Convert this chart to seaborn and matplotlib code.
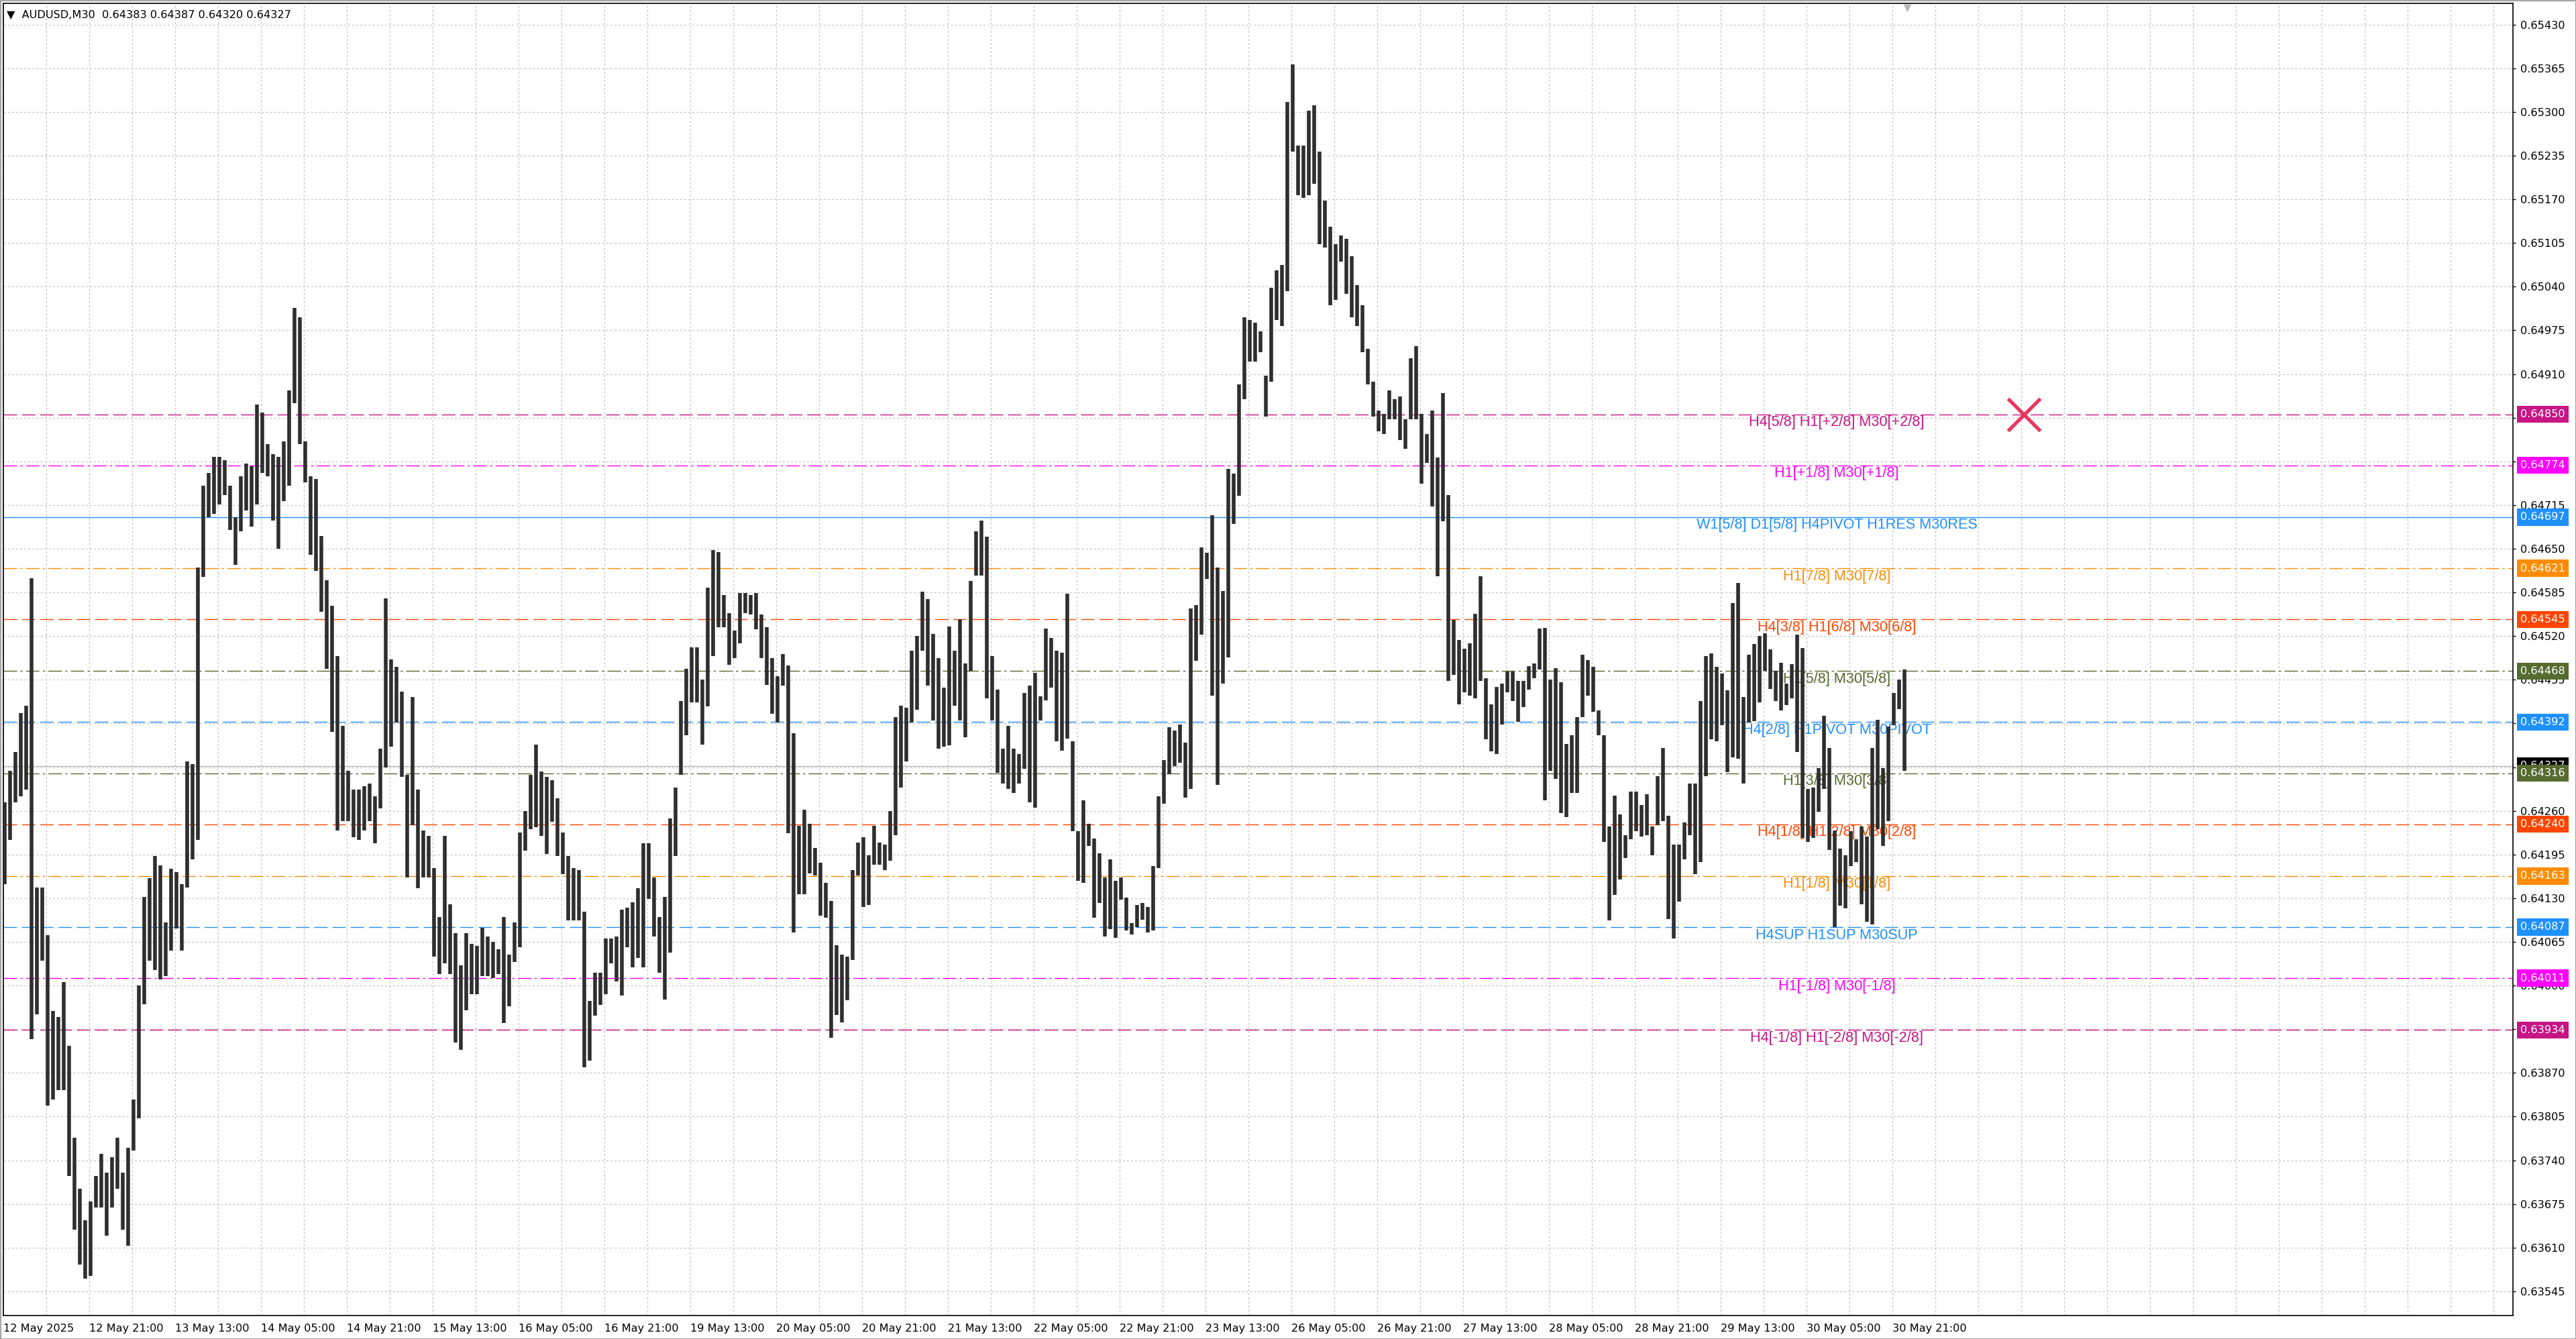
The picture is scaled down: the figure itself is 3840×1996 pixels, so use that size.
import numpy as np
import matplotlib
matplotlib.use("Agg")
import matplotlib.pyplot as plt
from matplotlib.patches import Rectangle
import seaborn as sns

# hourly high / low of AUDUSD, one value per hour from 12 May 05:00 (weekend hours skipped)
# week of 12 May (12 May 05:00 .. 16 May 23:00)
w1_high = [0.64273, 0.64320, 0.64348, 0.64405, 0.64416, 0.64606, 0.64146, 0.64146,
           0.64075, 0.63962, 0.63953, 0.64005, 0.63910, 0.63774, 0.63698, 0.63651,
           0.63679, 0.63717, 0.63750, 0.63722, 0.63745, 0.63774, 0.63722, 0.63759,
           0.63830, 0.64000, 0.64132, 0.64160, 0.64193, 0.64179, 0.64094, 0.64174,
           0.64169, 0.64151, 0.64334, 0.64330, 0.64622, 0.64744, 0.64763, 0.64787,
           0.64787, 0.64782, 0.64744, 0.64697, 0.64758, 0.64777, 0.64773, 0.64865,
           0.64853, 0.64806, 0.64791, 0.64787, 0.64810, 0.64886, 0.65008, 0.64994,
           0.64810, 0.64758, 0.64754, 0.64669, 0.64603, 0.64565, 0.64490, 0.64386,
           0.64320, 0.64292, 0.64292, 0.64297, 0.64301, 0.64282, 0.64353, 0.64576,
           0.64485, 0.64474, 0.64437, 0.64314, 0.64429, 0.64292, 0.64231, 0.64223,
           0.64175, 0.64102, 0.64223, 0.64121, 0.64078, 0.64030, 0.64078, 0.64062,
           0.64059, 0.64086, 0.64073, 0.64065, 0.64054, 0.64102, 0.64046, 0.64094,
           0.64228, 0.64260, 0.64314, 0.64359, 0.64319, 0.64311, 0.64306, 0.64279,
           0.64228, 0.64193, 0.64175, 0.64172, 0.64110, 0.63977, 0.64019, 0.64019,
           0.64070, 0.64070, 0.64073]
w1_low = [0.64151, 0.64217, 0.64273, 0.64282, 0.64292, 0.63920, 0.63957, 0.64037,
          0.63821, 0.63830, 0.63844, 0.63844, 0.63717, 0.63637, 0.63585, 0.63564,
          0.63568, 0.63670, 0.63670, 0.63628, 0.63670, 0.63698, 0.63637, 0.63613,
          0.63755, 0.63802, 0.63972, 0.64037, 0.64023, 0.64009, 0.64014, 0.64052,
          0.64085, 0.64052, 0.64146, 0.64188, 0.64217, 0.64608, 0.64697, 0.64702,
          0.64716, 0.64730, 0.64678, 0.64626, 0.64676, 0.64707, 0.64683, 0.64716,
          0.64763, 0.64758, 0.64692, 0.64650, 0.64721, 0.64744, 0.64867, 0.64806,
          0.64749, 0.64641, 0.64617, 0.64556, 0.64471, 0.64377, 0.64231, 0.64245,
          0.64245, 0.64221, 0.64217, 0.64231, 0.64245, 0.64212, 0.64264, 0.64325,
          0.64356, 0.64391, 0.64311, 0.64161, 0.64239, 0.64145, 0.64161, 0.64161,
          0.64043, 0.64017, 0.64033, 0.64017, 0.63915, 0.63904, 0.63963, 0.63987,
          0.63987, 0.64014, 0.64014, 0.64011, 0.64017, 0.63944, 0.63969, 0.64035,
          0.64057, 0.64201, 0.64233, 0.64236, 0.64223, 0.64196, 0.64244, 0.64193,
          0.64166, 0.64097, 0.64097, 0.64097, 0.63878, 0.63888, 0.63955, 0.63971,
          0.63987, 0.64033, 0.64006]

# week of 19 May (19 May 00:00 .. 23 May 23:00)
w2_high = [0.64113, 0.64116, 0.64124, 0.64145, 0.64212, 0.64212, 0.64161, 0.64102,
           0.64132, 0.64249, 0.64295, 0.64423, 0.64471, 0.64503, 0.64503, 0.64455,
           0.64592, 0.64648, 0.64645, 0.64581, 0.64554, 0.64528, 0.64584, 0.64584,
           0.64581, 0.64584, 0.64552, 0.64533, 0.64487, 0.64460, 0.64493, 0.64476,
           0.64375, 0.64238, 0.64262, 0.64241, 0.64205, 0.64183, 0.64153, 0.64126,
           0.64060, 0.64046, 0.64043, 0.64172, 0.64213, 0.64221, 0.64194, 0.64238,
           0.64213, 0.64210, 0.64260, 0.64399, 0.64416, 0.64413, 0.64498, 0.64520,
           0.64586, 0.64575, 0.64523, 0.64487, 0.64443, 0.64534, 0.64498, 0.64545,
           0.64479, 0.64602, 0.64676, 0.64692, 0.64668, 0.64490, 0.64440, 0.64353,
           0.64386, 0.64353, 0.64345, 0.64435, 0.64446, 0.64465, 0.64430, 0.64531,
           0.64517, 0.64498, 0.64495, 0.64583, 0.64364, 0.64230, 0.64276, 0.64241,
           0.64219, 0.64197, 0.64161, 0.64188, 0.64156, 0.64161, 0.64131, 0.64093,
           0.64120, 0.64123, 0.64117, 0.64178, 0.64282, 0.64336, 0.64384, 0.64379,
           0.64388, 0.64362, 0.64561, 0.64566, 0.64652, 0.64644, 0.64700, 0.64622,
           0.64587, 0.64769, 0.64762, 0.64895, 0.64994, 0.64990, 0.64986, 0.64973]
w2_low = [0.63985, 0.64057, 0.64027, 0.64041, 0.64027, 0.64129, 0.64073, 0.64019,
          0.63979, 0.64049, 0.64193, 0.64314, 0.64372, 0.64421, 0.64421, 0.64359,
          0.64415, 0.64490, 0.64533, 0.64533, 0.64477, 0.64487, 0.64509, 0.64554,
          0.64552, 0.64530, 0.64487, 0.64447, 0.64404, 0.64391, 0.64446, 0.64227,
          0.64079, 0.64136, 0.64136, 0.64167, 0.64164, 0.64104, 0.64101, 0.63922,
          0.63956, 0.63945, 0.63978, 0.64038, 0.64164, 0.64117, 0.64120, 0.64180,
          0.64180, 0.64172, 0.64186, 0.64224, 0.64295, 0.64334, 0.64391, 0.64410,
          0.64498, 0.64446, 0.64394, 0.64353, 0.64356, 0.64358, 0.64416, 0.64394,
          0.64369, 0.64468, 0.64610, 0.64610, 0.64427, 0.64394, 0.64317, 0.64301,
          0.64293, 0.64287, 0.64301, 0.64323, 0.64273, 0.64265, 0.64394, 0.64424,
          0.64443, 0.64364, 0.64350, 0.64367, 0.64230, 0.64156, 0.64153, 0.64208,
          0.64101, 0.64123, 0.64073, 0.64084, 0.64071, 0.64128, 0.64082, 0.64076,
          0.64087, 0.64098, 0.64079, 0.64082, 0.64175, 0.64271, 0.64315, 0.64327,
          0.64332, 0.64280, 0.64293, 0.64483, 0.64522, 0.64605, 0.64431, 0.64299,
          0.64449, 0.64488, 0.64687, 0.64729, 0.64873, 0.64929, 0.64929, 0.64942]

# week of 26 May (26 May 00:00 .. 30 May 23:00)
w3_high = [0.64908, 0.65038, 0.65064, 0.65072, 0.65315, 0.65371, 0.65250, 0.65250,
           0.65302, 0.65310, 0.65241, 0.65168, 0.65129, 0.65103, 0.65116, 0.65111,
           0.65085, 0.65042, 0.65012, 0.64947, 0.64899, 0.64856, 0.64851, 0.64886,
           0.64873, 0.64877, 0.64843, 0.64934, 0.64951, 0.64851, 0.64821, 0.64856,
           0.64786, 0.64882, 0.64730, 0.64544, 0.64514, 0.64501, 0.64509, 0.64553,
           0.64609, 0.64457, 0.64418, 0.64444, 0.64449, 0.64467, 0.64467, 0.64453,
           0.64453, 0.64475, 0.64479, 0.64531, 0.64532, 0.64455, 0.64472, 0.64451,
           0.64360, 0.64372, 0.64399, 0.64492, 0.64484, 0.64474, 0.64409, 0.64372,
           0.64237, 0.64283, 0.64255, 0.64224, 0.64289, 0.64289, 0.64269, 0.64285,
           0.64237, 0.64312, 0.64354, 0.64253, 0.64210, 0.64210, 0.64243, 0.64301,
           0.64301, 0.64423, 0.64490, 0.64494, 0.64474, 0.64464, 0.64439, 0.64569,
           0.64599, 0.64429, 0.64492, 0.64508, 0.64520, 0.64524, 0.64500, 0.64468,
           0.64480, 0.64449, 0.64478, 0.64522, 0.64502, 0.64293, 0.64295, 0.64324,
           0.64401, 0.64354, 0.64231, 0.64204, 0.64194, 0.64230, 0.64218, 0.64237,
           0.64222, 0.64354, 0.64395, 0.64324, 0.64385, 0.64435, 0.64455, 0.64470]
w3_low = [0.64847, 0.64899, 0.64990, 0.64981, 0.65033, 0.65241, 0.65176, 0.65172,
          0.65176, 0.65193, 0.65103, 0.65098, 0.65012, 0.65020, 0.65077, 0.65029,
          0.64994, 0.64981, 0.64942, 0.64895, 0.64847, 0.64825, 0.64821, 0.64843,
          0.64843, 0.64812, 0.64799, 0.64843, 0.64843, 0.64747, 0.64778, 0.64713,
          0.64609, 0.64691, 0.64453, 0.64462, 0.64418, 0.64436, 0.64431, 0.64427,
          0.64453, 0.64366, 0.64349, 0.64345, 0.64388, 0.64436, 0.64423, 0.64392,
          0.64414, 0.64440, 0.64457, 0.64470, 0.64276, 0.64320, 0.64308, 0.64257,
          0.64251, 0.64287, 0.64287, 0.64399, 0.64431, 0.64407, 0.64372, 0.64214,
          0.64097, 0.64135, 0.64158, 0.64190, 0.64218, 0.64230, 0.64222, 0.64224,
          0.64194, 0.64239, 0.64245, 0.64099, 0.64070, 0.64125, 0.64188, 0.64224,
          0.64166, 0.64184, 0.64312, 0.64366, 0.64364, 0.64387, 0.64318, 0.64340,
          0.64338, 0.64301, 0.64391, 0.64393, 0.64421, 0.64468, 0.64441, 0.64423,
          0.64409, 0.64417, 0.64427, 0.64348, 0.64220, 0.64214, 0.64220, 0.64259,
          0.64293, 0.64202, 0.64087, 0.64119, 0.64115, 0.64178, 0.64184, 0.64121,
          0.64095, 0.64091, 0.64233, 0.64208, 0.64245, 0.64387, 0.64411, 0.64320]

# horizontal levels drawn by the indicator
level_prices = [0.64850, 0.64774, 0.64697, 0.64621, 0.64545, 0.64468, 0.64392,
                0.64316, 0.64240, 0.64163, 0.64087, 0.64011, 0.63934]
level_names = ["H4[5/8] H1[+2/8] M30[+2/8]", "H1[+1/8] M30[+1/8]",
               "W1[5/8] D1[5/8] H4PIVOT H1RES M30RES", "H1[7/8] M30[7/8]",
               "H4[3/8] H1[6/8] M30[6/8]", "H1[5/8] M30[5/8]",
               "H4[2/8] H1PIVOT M30PIVOT", "H1[3/8] M30[3/8]",
               "H4[1/8] H1[2/8] M30[2/8]", "H1[1/8] M30[1/8]",
               "H4SUP H1SUP M30SUP", "H1[-1/8] M30[-1/8]",
               "H4[-1/8] H1[-2/8] M30[-2/8]"]
level_colors = ["#C71585", "#FF00FF", "#1E90FF", "#FF8C00", "#FF4500", "#556B2F",
                "#1E90FF", "#556B2F", "#FF4500", "#FF8C00", "#1E90FF", "#FF00FF",
                "#C71585"]
level_styles = ["dash", "dashdot", "solid", "dashdot", "dash", "dashdot", "dash",
                "dashdot", "dash", "dashdot", "dash", "dashdot", "dash"]

last_price = 0.64327
title = "AUDUSD,M30  0.64383 0.64387 0.64320 0.64327"

price_ticks = [0.65430, 0.65365, 0.65300, 0.65235, 0.65170, 0.65105, 0.65040,
               0.64975, 0.64910, 0.64845, 0.64780, 0.64715, 0.64650, 0.64585,
               0.64520, 0.64455, 0.64390, 0.64325, 0.64260, 0.64195, 0.64130,
               0.64065, 0.64000, 0.63935, 0.63870, 0.63805, 0.63740, 0.63675,
               0.63610, 0.63545]

time_labels = ["12 May 2025", "12 May 21:00", "13 May 13:00", "14 May 05:00",
               "14 May 21:00", "15 May 13:00", "16 May 05:00", "16 May 21:00",
               "19 May 13:00", "20 May 05:00", "20 May 21:00", "21 May 13:00",
               "22 May 05:00", "22 May 21:00", "23 May 13:00", "26 May 05:00",
               "26 May 21:00", "27 May 13:00", "28 May 05:00", "28 May 21:00",
               "29 May 13:00", "30 May 05:00", "30 May 21:00"]

highs = np.array(w1_high + w2_high + w3_high)
lows = np.array(w1_low + w2_low + w3_low)
hours = np.arange(len(highs)) + 0.25

sns.set_theme(style="white")
plt.rcParams["font.family"] = ["DejaVu Sans"]
plt.rcParams["lines.scale_dashes"] = False

fig = plt.figure(figsize=(19.2, 9.98), dpi=200)
ax = fig.add_axes([0.0012, 0.01754, 0.97432, 0.98016])
ax.set_facecolor("white")

ax.set_xlim(-0.05, 467.6)
ax.set_ylim(0.63509, 0.65462)

# grid
major_x = list(range(0, 353, 16))
minor_x = [h for h in range(8, 468, 8) if h not in major_x]
ax.set_xticks(major_x)
ax.set_xticklabels(time_labels, ha="left", fontsize=5.8)
ax.set_xticks(minor_x, minor=True)
ax.set_yticks(price_ticks)
ax.set_yticklabels([f"{p:.5f}" for p in price_ticks], fontsize=5.8)
ax.yaxis.tick_right()
ax.grid(True, which="both", color="#C4C4C4", lw=0.45, linestyle=(0, (1.1, 1.1)))
ax.set_axisbelow(True)
ax.tick_params(axis="x", which="major", direction="out", length=1.2, width=0.5,
               pad=3.2, colors="black")
ax.tick_params(axis="x", which="minor", length=0)
ax.tick_params(axis="y", direction="out", length=1.5, width=0.5, pad=2.5,
               colors="black")
for side in ax.spines.values():
    side.set_color("black")
    side.set_linewidth(0.6)

# indicator levels
dash_map = {"dash": (0, (7.2, 2.6)), "dashdot": (0, (7.2, 1.8, 1.2, 1.8)), "solid": "-"}
for p, name, c, st in zip(level_prices, level_names, level_colors, level_styles):
    ax.axhline(p, color=c, lw=0.5, linestyle=dash_map[st], zorder=1.5)
    ax.text(341.6, p - 0.00012, name, color=c, ha="center", va="center",
            fontsize=7.8, family=["Liberation Sans", "DejaVu Sans"], zorder=1.8)
ax.axhline(last_price, color="#B0B0B0", lw=0.45, zorder=1.6)

# price bars
ax.vlines(hours, lows, highs, color="#2e2e2e", lw=2.0, zorder=3)

# right-hand price boxes
ax.text(1.00295, last_price, f"{last_price:.5f}", transform=ax.get_yaxis_transform(),
        ha="left", va="center", fontsize=5.8, color="white", zorder=6, clip_on=False,
        bbox=dict(boxstyle="square,pad=0.32", fc="black", ec="none"))
for p, c in zip(level_prices, level_colors):
    ax.text(1.00295, p, f"{p:.5f}", transform=ax.get_yaxis_transform(),
            ha="left", va="center", fontsize=5.8, color="white", zorder=7,
            clip_on=False, bbox=dict(boxstyle="square,pad=0.32", fc=c, ec="none"))

# cross marker and chart shift marker
sns.scatterplot(x=[376.5], y=[0.64850], marker="x", s=300, color="#E8385E",
                linewidth=1.9, ax=ax, zorder=5, legend=False)
sns.scatterplot(x=[354.75], y=[0.65455], marker="v", s=18, color="#B8B8B8",
                linewidth=0, ax=ax, zorder=5, legend=False, clip_on=False)

# symbol line at top-left
ax.text(0.00134, 0.9911, "\u25BC  " + title, transform=ax.transAxes, ha="left",
        va="center", fontsize=5.8, color="black", zorder=8)

ax.set_xlabel("")
ax.set_ylabel("")
fig.add_artist(Rectangle((0, 0), 1, 1, transform=fig.transFigure, fill=False,
                         ec="#A8A8A8", lw=1.2))

fig.savefig("out.png", dpi=200, facecolor="white")
